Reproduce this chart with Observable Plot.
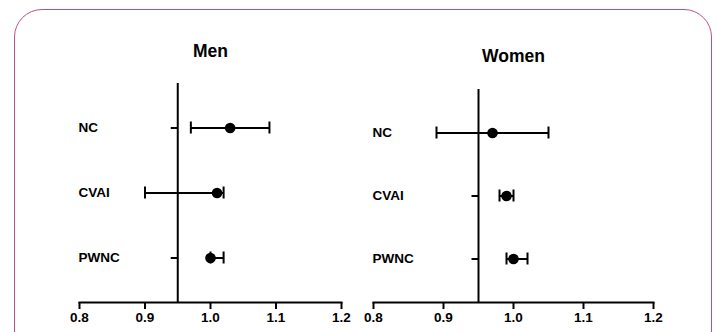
<!DOCTYPE html>
<html>
<head>
<meta charset="utf-8">
<script src="https://cdn.jsdelivr.net/npm/d3@7"></script>
<script src="https://cdn.jsdelivr.net/npm/@observablehq/plot@0.6"></script>
<style>
  html, body { margin: 0; padding: 0; background: #fff; }
  #wrap { position: relative; width: 719px; height: 332px; overflow: hidden; background: #fff; }
  #border { position: absolute; left: 14px; top: 9px; width: 698px; height: 400px; box-sizing: border-box;
            border: 1.5px solid #b4528a; border-radius: 28px; }
  .panel { position: absolute; top: 0; }
  .panel svg { display: block; }
</style>
</head>
<body>
<div id="wrap">
  <div id="border"></div>
  <div class="panel" id="men" style="left:0px"></div>
  <div class="panel" id="women" style="left:359px"></div>
</div>
<script>
const categories = ["NC", "CVAI", "PWNC"];
const menEstimate = [1.03, 1.01, 1.00];
const menLower = [0.97, 0.90, 1.00];
const menUpper = [1.09, 1.02, 1.02];
const womenEstimate = [0.97, 0.99, 1.00];
const womenLower = [0.89, 0.98, 0.99];
const womenUpper = [1.05, 1.00, 1.02];
const xTicks = [0.8, 0.9, 1.0, 1.1, 1.2];
const refValue = 0.95;

const leftTick = {draw(ctx) { ctx.moveTo(-7, 0); ctx.lineTo(0, 0); }};

function panel(title, est, lo, hi, m) {
  const rows = categories.map((c, i) => ({cat: c, est: est[i], lo: lo[i], hi: hi[i]}));
  return Plot.plot({
    width: 360,
    height: 332,
    marginLeft: m.left,
    marginRight: m.right,
    marginTop: m.top,
    marginBottom: 30,
    style: {fontFamily: "'Liberation Sans', Arial, sans-serif", fontWeight: "bold", fontSize: "13.5px", background: "transparent", color: "#000"},
    x: {domain: [0.8, 1.2]},
    y: {domain: categories, type: "band", paddingInner: 0.8, paddingOuter: 0.572, axis: null},
    marks: [
      Plot.frame({anchor: "bottom", strokeWidth: 2, stroke: "#000"}),
      Plot.axisX({ticks: xTicks, tickFormat: d3.format(".1f"), tickSize: 7, tickPadding: 3, strokeWidth: 2, fontSize: 13.5, fontWeight: "bold", label: null}),
      Plot.ruleX([refValue], {strokeWidth: 2, stroke: "#000"}),
      Plot.dot(categories, {x: () => refValue, y: d => d, symbol: leftTick, fill: "none", stroke: "#000", strokeWidth: 2}),
      Plot.text(categories, {y: d => d, text: d => d, frameAnchor: "left", textAnchor: "start", dx: -1, fontSize: 13.5, fontWeight: "bold"}),
      Plot.ruleY(rows, {y: "cat", x1: "lo", x2: "hi", strokeWidth: 2, stroke: "#000"}),
      Plot.tickX(rows, {y: "cat", x: "lo", strokeWidth: 2, stroke: "#000", inset: 0.5}),
      Plot.tickX(rows, {y: "cat", x: "hi", strokeWidth: 2, stroke: "#000", inset: 0.5}),
      Plot.dot(rows, {x: "est", y: "cat", r: 5.3, fill: "#000"}),
      Plot.text([title], {text: d => d, frameAnchor: "top", dy: m.titleDy, lineAnchor: "middle", fontSize: 17.5, fontWeight: "bold"})
    ]
  });
}

document.getElementById("men").appendChild(
  panel("Men", menEstimate, menLower, menUpper, {left: 79, right: 19, top: 83, titleDy: -32}));
document.getElementById("women").appendChild(
  panel("Women", womenEstimate, womenLower, womenUpper, {left: 14, right: 66, top: 89, titleDy: -33}));
</script>
</body>
</html>
